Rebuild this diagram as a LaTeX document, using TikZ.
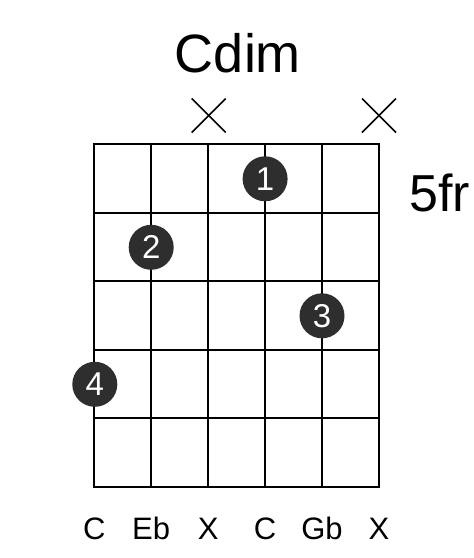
\documentclass[tikz,border=0pt]{standalone}
\usepackage{fontspec}
\setmainfont{Liberation Sans}
\usetikzlibrary{calc}
\begin{document}
\begin{tikzpicture}[x=1pt,y=-1pt,
  gridline/.style={line width=2pt,black},
  mutemark/.style={line width=1.6pt,black},
  fingerdot/.style={circle,fill=black!82,inner sep=0pt,minimum size=45pt,text=white,font=\fontsize{33}{33}\selectfont},
  notelabel/.style={anchor=base,font=\fontsize{31}{31}\selectfont},
]
\useasboundingbox[fill=white] (0,0) rectangle (474,558);
% grid
\foreach \i in {0,...,5} {
  \draw[gridline] ({94.3+56.94*\i},144.3) -- ({94.3+56.94*\i},486.7);
}
\foreach \j in {0,...,5} {
  \draw[gridline] (93.3,{144.3+68.48*\j}) -- (380,{144.3+68.48*\j});
}
% title
\node[anchor=base,font=\fontsize{54}{54}\selectfont] (title) at (238,72.7) {Cdim};
\node[anchor=base west,font=\fontsize{52}{52}\selectfont,inner sep=0pt] (fret) at (409,211.7) {5fr};
% mute marks
\coordinate (m1) at (208.7,115.5);
\coordinate (m2) at (379,115.5);
\foreach \m in {m1,m2} {
  \draw[mutemark] ($(\m)+(-17,-17)$) -- ($(\m)+(17,17)$);
  \draw[mutemark] ($(\m)+(-17,17)$) -- ($(\m)+(17,-17)$);
}
% finger dots
\node[fingerdot] (d1) at (265.1,178.8) {1};
\node[fingerdot] (d2) at (151.2,247.3) {2};
\node[fingerdot] (d3) at (322.0,315.8) {3};
\node[fingerdot] (d4) at (94.8,384.3) {4};
% string labels
\node[notelabel] (s1) at (94.3,539.3) {C};
\node[notelabel] (s2) at (151.2,539.3) {Eb};
\node[notelabel] (s3) at (208.2,539.3) {X};
\node[notelabel] (s4) at (265.1,539.3) {C};
\node[notelabel] (s5) at (322.0,539.3) {Gb};
\node[notelabel] (s6) at (379.0,539.3) {X};
\end{tikzpicture}
\end{document}
